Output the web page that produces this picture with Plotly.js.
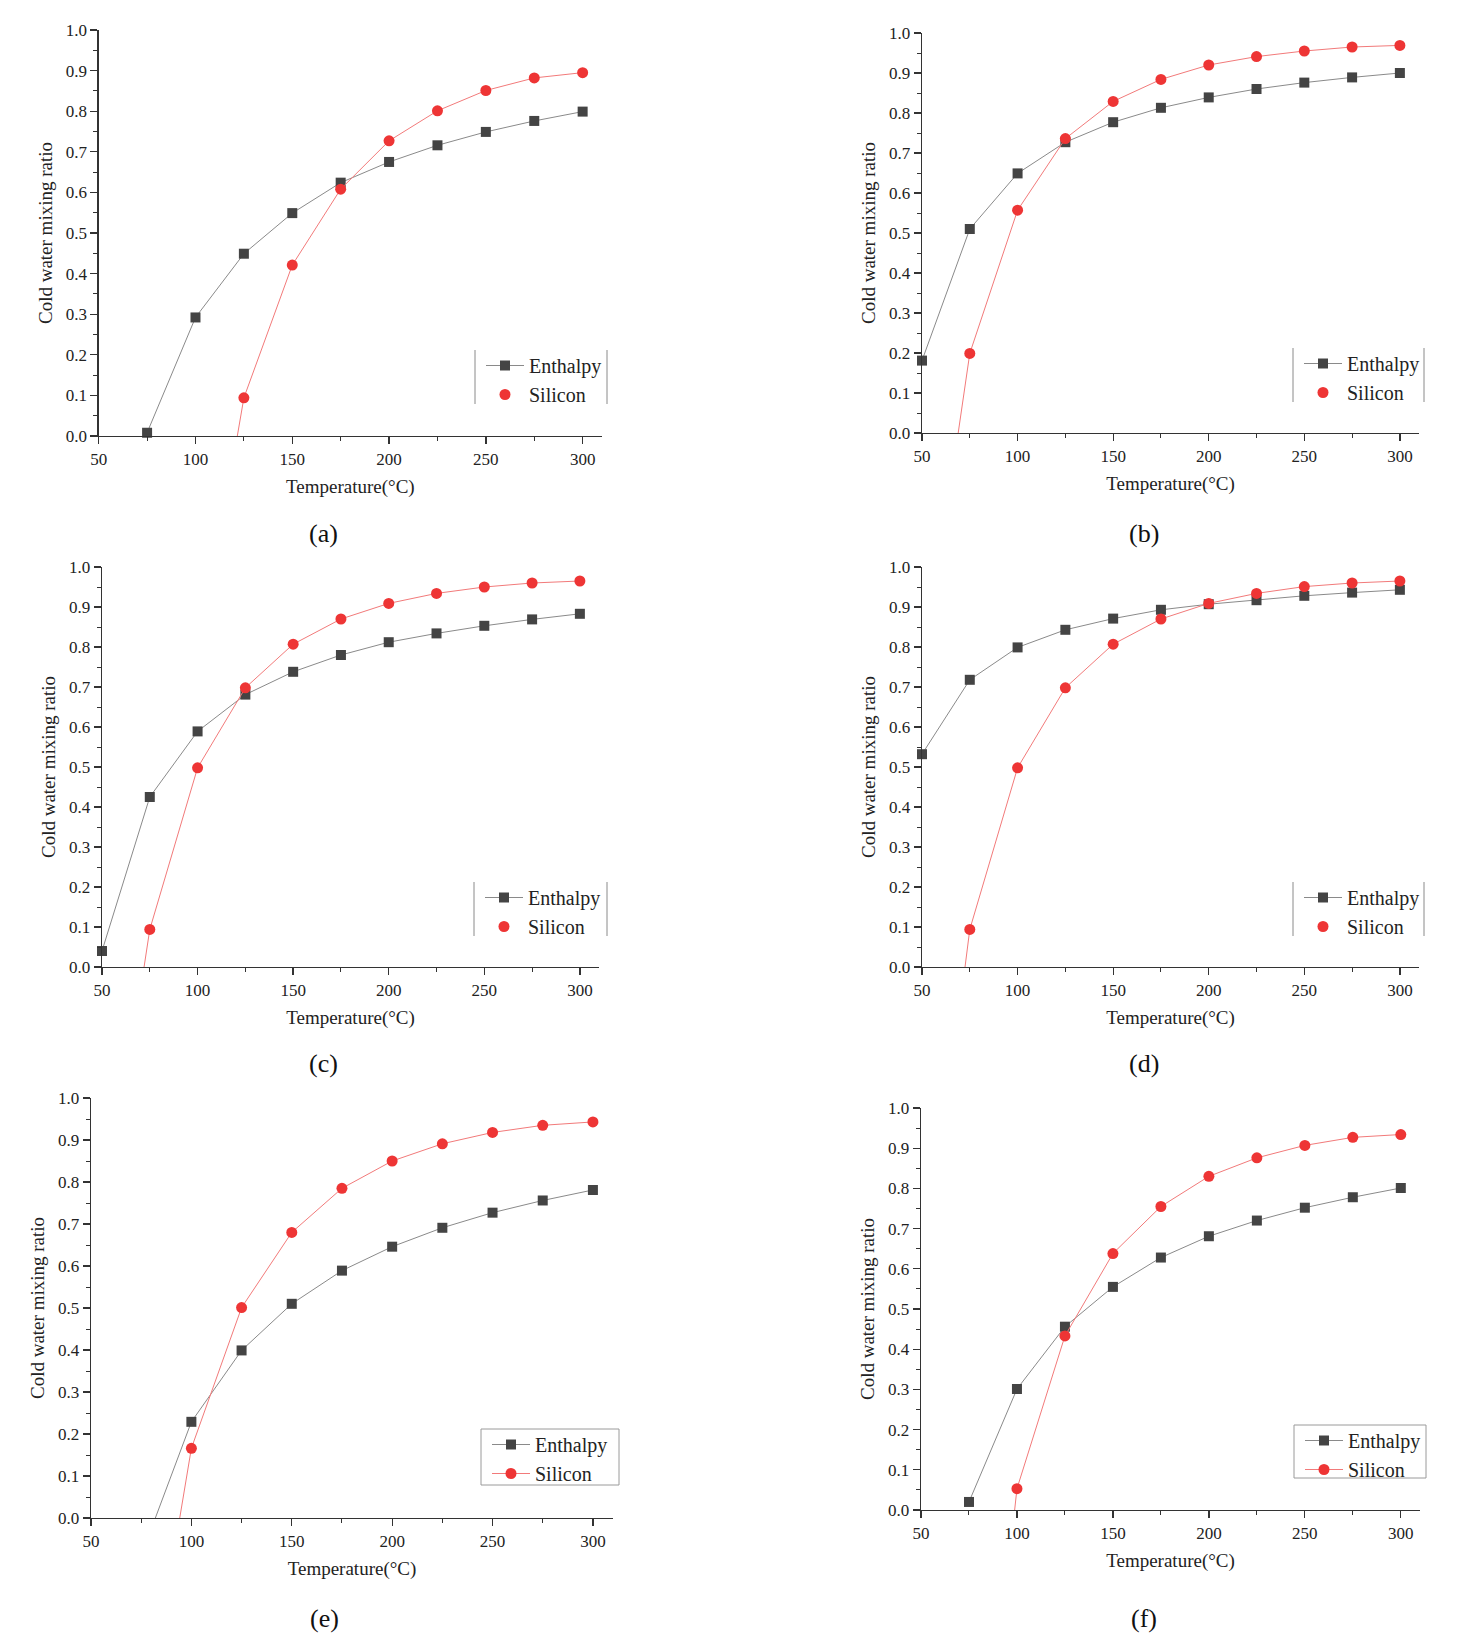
<!DOCTYPE html>
<html>
<head>
<meta charset="utf-8">
<script src="https://cdn.plot.ly/plotly-3.0.1.min.js"></script>
<style>
  html, body { margin: 0; padding: 0; background: #fff; }
  #chart { width: 1482px; height: 1651px; }
</style>
</head>
<body>
<div id="chart"></div>
<script>
// temperatures (°C) shared by all six panels
var temps = [50, 75, 100, 125, 150, 175, 200, 225, 250, 275, 300];

// values; negative values sit below the axis and are clipped
var enthA = [null, 0.008, 0.292, 0.449, 0.549, 0.624, 0.675, 0.716, 0.749, 0.776, 0.799];
var silA  = [null, null, -0.60, 0.094, 0.421, 0.608, 0.727, 0.801, 0.851, 0.882, 0.895];

var enthB = [0.181, 0.510, 0.649, 0.727, 0.777, 0.813, 0.839, 0.860, 0.876, 0.889, 0.900];
var silB  = [-0.62, 0.199, 0.557, 0.736, 0.829, 0.884, 0.920, 0.941, 0.955, 0.965, 0.969];

var enthC = [0.040, 0.425, 0.589, 0.681, 0.738, 0.780, 0.812, 0.834, 0.853, 0.869, 0.883];
var silC  = [-0.69, 0.094, 0.498, 0.698, 0.807, 0.870, 0.909, 0.934, 0.950, 0.960, 0.965];

var enthD = [0.532, 0.718, 0.799, 0.843, 0.871, 0.893, 0.907, 0.917, 0.928, 0.936, 0.943];
var silD  = [-0.85, 0.094, 0.498, 0.698, 0.807, 0.870, 0.909, 0.934, 0.951, 0.960, 0.965];

var enthE = [null, -0.09, 0.229, 0.399, 0.510, 0.589, 0.646, 0.691, 0.727, 0.756, 0.781];
var silE  = [null, -0.55, 0.166, 0.501, 0.680, 0.785, 0.850, 0.891, 0.918, 0.935, 0.943];

var enthF = [null, 0.020, 0.301, 0.456, 0.555, 0.628, 0.681, 0.720, 0.752, 0.778, 0.801];
var silF  = [null, -1.05, 0.053, 0.433, 0.638, 0.755, 0.830, 0.876, 0.907, 0.927, 0.934];

var panelLabels = ['(a)', '(b)', '(c)', '(d)', '(e)', '(f)'];
var seriesNames = ['Enthalpy', 'Silicon'];
var xTitle = 'Temperature(°C)';
var yTitle = 'Cold water mixing ratio';

var enthalpy = [enthA, enthB, enthC, enthD, enthE, enthF];
var silicon = [silA, silB, silC, silD, silE, silF];

// page layout in pixels
var W = 1482, H = 1651;
var boxes = [
  {l: 98.7, r: 602,  t: 30,   b: 436,  leg: [475, 607, 350, 404],   full: false, lab: [323, 533]},
  {l: 922,  r: 1419, t: 33,   b: 433,  leg: [1293, 1424, 348, 402], full: false, lab: [1144, 533]},
  {l: 102,  r: 599,  t: 567,  b: 967,  leg: [474, 607, 882, 936],   full: false, lab: [323, 1063]},
  {l: 922,  r: 1419, t: 567,  b: 967,  leg: [1293, 1424, 882, 936], full: false, lab: [1144, 1063]},
  {l: 91,   r: 613,  t: 1098, b: 1518, leg: [481, 619, 1429, 1485], full: true,  lab: [324, 1618]},
  {l: 921,  r: 1420, t: 1108, b: 1510, leg: [1294, 1426, 1425, 1478], full: true, lab: [1144, 1618]}
];

function px(p) { return p / W; }
function py(p) { return 1 - p / H; }

var font = 'Liberation Serif, Times New Roman, serif';
var axisColor = '#333333';
var greyLine = '#8a8a8a', greyMark = '#444444';
var redLine = '#f27a7a', redMark = '#ee3535';

var data = [];
var layout = {
  width: W,
  height: H,
  margin: {l: 0, r: 0, t: 0, b: 0},
  paper_bgcolor: '#ffffff',
  plot_bgcolor: '#ffffff',
  font: {family: font, color: '#222222'},
  showlegend: true,
  shapes: [],
  annotations: []
};

boxes.forEach(function (bx, i) {
  var n = i === 0 ? '' : String(i + 1);
  var xa = 'x' + n, ya = 'y' + n;
  var legName = 'legend' + n;

  data.push({
    x: temps, y: enthalpy[i], xaxis: xa, yaxis: ya,
    name: seriesNames[0], legend: legName,
    mode: 'lines+markers', cliponaxis: false,
    line: {color: greyLine, width: 1},
    marker: {symbol: 'square', size: 10, color: greyMark}
  });
  data.push({
    x: temps, y: silicon[i], xaxis: xa, yaxis: ya,
    name: seriesNames[1], legend: legName, showlegend: bx.full,
    mode: 'lines+markers', cliponaxis: false,
    line: {color: redLine, width: 1},
    marker: {symbol: 'circle', size: 11, color: redMark}
  });
  if (!bx.full) {
    // legend entry only: marker without line, as in panels (a)-(d)
    data.push({
      x: [null], y: [null], xaxis: xa, yaxis: ya,
      name: seriesNames[1], legend: legName,
      mode: 'markers',
      marker: {symbol: 'circle', size: 11, color: redMark}
    });
  }

  layout['xaxis' + n] = {
    domain: [px(bx.l), px(bx.r)],
    anchor: ya,
    range: [50, 310],
    tick0: 50, dtick: 50,
    showline: true, linecolor: axisColor, linewidth: 1.3,
    ticks: 'outside', ticklen: 7, tickwidth: 1.3, tickcolor: axisColor,
    minor: {ticks: 'outside', ticklen: 4, tick0: 50, dtick: 25, tickwidth: 1, tickcolor: axisColor},
    showgrid: false, zeroline: false,
    tickfont: {family: font, size: 17, color: '#222222'},
    title: {text: xTitle, font: {family: font, size: 19, color: '#222222'}, standoff: 12}
  };
  layout['yaxis' + n] = {
    domain: [py(bx.b), py(bx.t)],
    anchor: xa,
    range: [0, 1],
    tick0: 0, dtick: 0.1, tickformat: '.1f',
    showline: true, linecolor: axisColor, linewidth: 1.3,
    ticks: 'outside', ticklen: 7, tickwidth: 1.3, tickcolor: axisColor,
    minor: {ticks: 'outside', ticklen: 4, tick0: 0, dtick: 0.05, tickwidth: 1, tickcolor: axisColor},
    showgrid: false, zeroline: false,
    tickfont: {family: font, size: 17, color: '#222222'},
    title: {text: yTitle, font: {family: font, size: 19, color: '#222222'}, standoff: 8}
  };

  var L = bx.leg;
  layout[legName] = {
    x: px(L[0] + 6), y: py(L[2] - 4),
    xanchor: 'left', yanchor: 'top',
    bgcolor: 'rgba(0,0,0,0)', borderwidth: 0,
    itemwidth: 38,
    font: {family: font, size: 20, color: '#222222'},
    tracegroupgap: 0
  };

  if (bx.full) {
    layout.shapes.push({
      type: 'rect', xref: 'paper', yref: 'paper',
      x0: px(L[0]), x1: px(L[1]), y0: py(L[3]), y1: py(L[2]),
      line: {color: '#9a9a9a', width: 1}
    });
  } else {
    [L[0], L[1]].forEach(function (edge) {
      layout.shapes.push({
        type: 'line', xref: 'paper', yref: 'paper',
        x0: px(edge), x1: px(edge), y0: py(L[3]), y1: py(L[2]),
        line: {color: '#8a8a8a', width: 1}
      });
    });
  }

  layout.annotations.push({
    text: panelLabels[i], xref: 'paper', yref: 'paper',
    x: px(bx.lab[0]), y: py(bx.lab[1]),
    xanchor: 'center', yanchor: 'middle', showarrow: false,
    font: {family: font, size: 26, color: '#111111'}
  });
});

Plotly.newPlot('chart', data, layout, {staticPlot: true});
</script>
</body>
</html>
